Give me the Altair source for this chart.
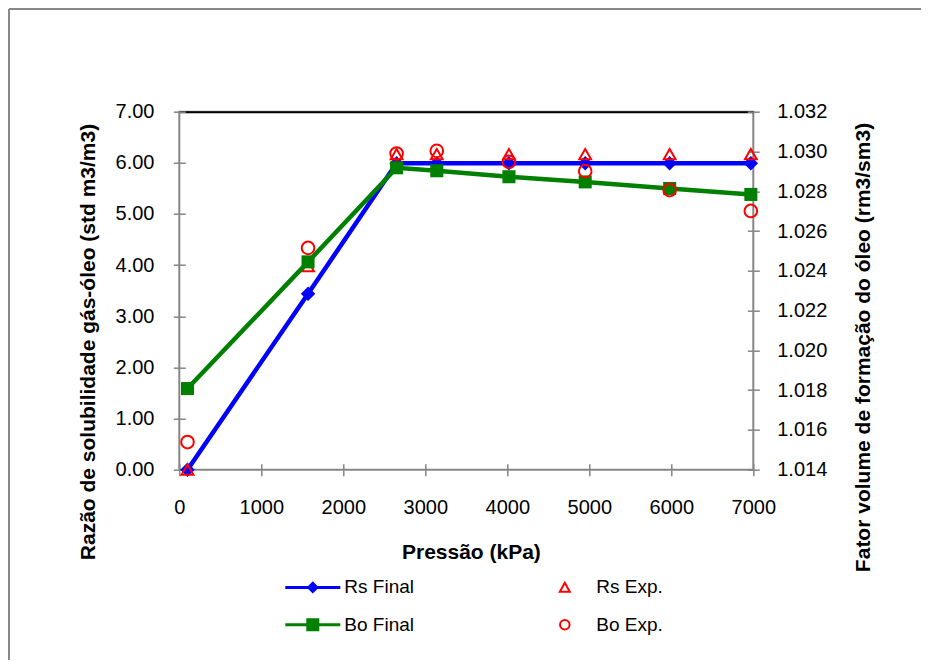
import altair as alt
import pandas as pd

# ---------------- data ----------------
pressure = [100, 1570, 2650, 3140, 4020, 4950, 5980, 6970]
rs_final = [0.0, 3.44, 5.99, 5.99, 5.99, 5.99, 5.99, 5.99]
rs_exp = [0.0, 3.98, 6.17, 6.17, 6.17, 6.17, 6.17, 6.17]
bo_final = [1.01808, 1.02445, 1.02918, 1.02903, 1.02873, 1.02847, 1.02814, 1.02784]
bo_exp = [1.01539, 1.02515, 1.02990, 1.03003, 1.02948, 1.02901, 1.02806, 1.02701]

# legend order (filled column by column)
series_names = ["Rs Final", "Bo Final", "Rs Exp.", "Bo Exp."]
x_ticks = [0, 1000, 2000, 3000, 4000, 5000, 6000, 7000]
y_left_ticks = [0, 1, 2, 3, 4, 5, 6, 7]
y_right_ticks = [1.014, 1.016, 1.018, 1.020, 1.022, 1.024, 1.026, 1.028, 1.030, 1.032]

df = pd.DataFrame({
    "p": pressure,
    "rs_final": rs_final,
    "rs_exp": rs_exp,
    "bo_final": bo_final,
    "bo_exp": bo_exp,
})
legend_df = pd.DataFrame({"series": series_names})
frame_df = pd.DataFrame({"k": [0]})

# ---------------- style ----------------
FONT = "Liberation Sans"
W, H = 574, 358
PAD_L, PAD_T = 171.3, 103.7
GRAY = "#868686"
BLUE = "#0000FF"
GREEN = "#008000"
RED = "#FF0000"

xs = alt.Scale(domain=[0, 7000], nice=False, zero=False)

x_axis_bottom = alt.Axis(
    orient="bottom", values=x_ticks, format="d", grid=False, labelFlush=False,
    domain=False, ticks=True, tickSize=12, offset=-6,
    tickColor=GRAY, tickWidth=1.5,
    labelPadding=21.5, labelFontSize=20, labelFont=FONT, labelColor="black",
    title="Pressão (kPa)", titleFont=FONT, titleFontSize=21, titleFontWeight="bold",
    titleColor="black", titleX=291.6, titleY=88.5, titleBaseline="middle", titleAlign="center",
)
x_axis_top = alt.Axis(
    orient="top", grid=False, domain=True, domainColor="black", domainWidth=2,
    ticks=False, labels=False, title=None,
)

yl_scale = alt.Scale(domain=[0, 7], nice=False, zero=False)
yl_axis = alt.Axis(
    orient="left", values=y_left_ticks, format=".2f", grid=False, labelFlush=False,
    domain=False, ticks=True, tickSize=12, offset=-6,
    tickColor=GRAY, tickWidth=1.5,
    labelPadding=19.3, labelFontSize=20, labelFont=FONT, labelColor="black",
    title="Razão de solubilidade gás-óleo (std m3/m3)", titleFont=FONT, titleFontSize=21,
    titleFontWeight="bold", titleColor="black", titleAngle=270,
    titleX=-97.3, titleY=229.8, titleBaseline="middle", titleAlign="center",
)
yr_scale = alt.Scale(domain=[1.014, 1.032], nice=False, zero=False)
yr_axis = alt.Axis(
    orient="right", values=y_right_ticks, format=".3f", grid=False, labelFlush=False,
    domain=False, ticks=True, tickSize=12, offset=-6,
    tickColor=GRAY, tickWidth=1.5,
    labelPadding=17.4, labelFontSize=20, labelFont=FONT, labelColor="black",
    title="Fator volume de formação do óleo (rm3/sm3)", titleFont=FONT, titleFontSize=21,
    titleFontWeight="bold", titleColor="black", titleAngle=270,
    titleX=116, titleY=235.3, titleBaseline="middle", titleAlign="center",
)

base = alt.Chart(df)
xb = alt.X("p:Q", scale=xs, axis=x_axis_bottom)
xt = alt.X("p:Q", scale=xs, axis=x_axis_top)

# ---------------- left (Rs) group ----------------
rs_line = base.mark_line(color=BLUE, strokeWidth=4.5).encode(
    x=xb, y=alt.Y("rs_final:Q", scale=yl_scale, axis=yl_axis))
rs_pts = base.mark_point(shape="diamond", filled=True, size=210, color=BLUE, opacity=1).encode(
    x=xb, y=alt.Y("rs_final:Q", scale=yl_scale, axis=yl_axis))
rs_exp_pts = base.mark_point(shape="triangle-up", filled=False, size=140, color=RED,
                             strokeWidth=2, opacity=1).encode(
    x=xb, y=alt.Y("rs_exp:Q", scale=yl_scale, axis=yl_axis))

# decorative outer frame (top and left edges)
frame_top = alt.Chart(frame_df).mark_rule(color="#888888", strokeWidth=2).encode(
    x=alt.value(1 - PAD_L), x2=alt.value(W + 400), y=alt.value(1 - PAD_T))
frame_left = alt.Chart(frame_df).mark_rule(color="#888888", strokeWidth=2).encode(
    x=alt.value(1 - PAD_L), y=alt.value(1 - PAD_T), y2=alt.value(H + 400))

# legend (driven by explicit scale domains)
line_diamond = "M-5.3,-0.1H5.3V0.1H-5.3Z M-0.95,0L0,-0.95L0.95,0L0,0.95Z"
line_square = "M-5.3,-0.1H5.3V0.1H-5.3Z M-1.1,-1.1H1.1V1.1H-1.1Z"
tri = "M0,-0.95L1.0,0.85L-1.0,0.85Z"
circ = "M0.95,0A0.95,0.95,0,1,1,-0.95,0A0.95,0.95,0,1,1,0.95,0Z"

leg = alt.Legend(
    orient="none", legendX=124, legendY=466, columns=2, title=None, padding=0,
    symbolSize=100, symbolStrokeWidth=2, symbolOpacity=1,
    labelFontSize=19, labelFont=FONT, labelColor="black", labelOffset=22, labelLimit=300,
    rowPadding=17.5, columnPadding=141,
)
legend_layer = alt.Chart(legend_df).transform_filter("false").mark_point(
    filled=True, opacity=1).encode(
    shape=alt.Shape("series:N", scale=alt.Scale(domain=series_names,
                    range=[line_diamond, line_square, tri, circ]), legend=leg),
    fill=alt.Fill("series:N", scale=alt.Scale(domain=series_names,
                  range=[BLUE, GREEN, "transparent", "transparent"]), legend=leg),
    stroke=alt.Stroke("series:N", scale=alt.Scale(domain=series_names,
                      range=[BLUE, GREEN, RED, RED]), legend=leg),
)

left = alt.layer(frame_top, frame_left, rs_line, rs_pts, rs_exp_pts, legend_layer)

# ---------------- right (Bo) group ----------------
bo_line = base.mark_line(color=GREEN, strokeWidth=4.5).encode(
    x=xt, y=alt.Y("bo_final:Q", scale=yr_scale, axis=yr_axis))
bo_pts = base.mark_point(shape="square", filled=True, size=170, color=GREEN, opacity=1).encode(
    x=xt, y=alt.Y("bo_final:Q", scale=yr_scale, axis=yr_axis))
bo_exp_pts = base.mark_point(shape="circle", filled=False, size=160, color=RED,
                             strokeWidth=2, opacity=1).encode(
    x=xt, y=alt.Y("bo_exp:Q", scale=yr_scale, axis=yr_axis))
right = alt.layer(bo_line, bo_pts, bo_exp_pts)

chart = alt.layer(left, right).resolve_scale(
    y="independent", x="independent"
).properties(
    width=W, height=H,
    autosize=alt.AutoSizeParams(type="none"),
    padding={"left": PAD_L, "top": PAD_T, "right": 913 - PAD_L - W, "bottom": 652 - PAD_T - H},
    background="white",
).configure_view(stroke=GRAY, strokeWidth=2)

chart.save("out.html", embed_options={"renderer": "svg", "actions": False})
